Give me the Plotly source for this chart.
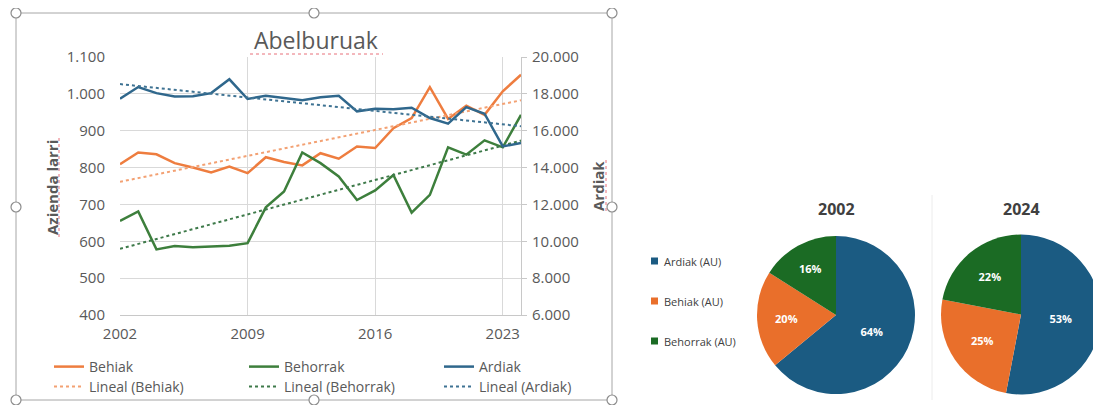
import numpy as np
import plotly.graph_objects as go

years = list(range(2002, 2025))
behiak = [809, 841, 836, 812, 800, 787, 803, 785, 828, 815, 806, 839, 824, 857,
          853, 907, 934, 1018, 932, 968, 943, 1007, 1052]
behorrak = [655, 681, 578, 587, 584, 586, 588, 595, 692, 735, 841, 812, 776, 712,
            738, 780, 678, 726, 855, 835, 874, 855, 943]
ardiak = [17740, 18370, 18040, 17860, 17870, 18040, 18790, 17720, 17900, 17780, 17660,
          17810, 17900, 17050, 17190, 17160, 17250, 16690, 16380, 17280, 16920, 15150, 15330]

x_ticks = [2002, 2009, 2016, 2023]
pie_labels = ["Ardiak (AU)", "Behiak (AU)", "Behorrak (AU)"]
pie_2002 = [64, 20, 16]
pie_2024 = [53, 25, 22]

C_OR = "#ee7d3f"
C_GR = "#3d7f3c"
C_BL = "#2f678c"
P_BL = "#1b5b82"
P_OR = "#e96f2b"
P_GR = "#1b6b24"
GRAY = "#595959"
FONT = "Open Sans"

# the page body has an 8px margin: the figure is sized so that it ends at the window edge
OFF = 8
W, H = 1101 - OFF, 405 - OFF
def px(x):
    return (x - OFF) / W
def py(y):
    return 1 - (y - OFF) / H

def trend(vals):
    k, b = np.polyfit(years, vals, 1)
    return [k * yy + b for yy in years]

fig = go.Figure()

fig.add_trace(go.Scatter(x=years, y=behiak, name="Behiak", mode="lines",
                         line=dict(color=C_OR, width=2.5), legend="legend"))
fig.add_trace(go.Scatter(x=years, y=behorrak, name="Behorrak", mode="lines",
                         line=dict(color=C_GR, width=2.5), legend="legend"))
fig.add_trace(go.Scatter(x=years, y=ardiak, name="Ardiak", mode="lines", yaxis="y2",
                         line=dict(color=C_BL, width=2.5), legend="legend"))
fig.add_trace(go.Scatter(x=years, y=trend(behiak), name="Lineal (Behiak)", mode="lines",
                         line=dict(color="#f3a173", width=2, dash="dot"), legend="legend2"))
fig.add_trace(go.Scatter(x=years, y=trend(behorrak), name="Lineal (Behorrak)", mode="lines",
                         line=dict(color="#3e7a4a", width=2, dash="dot"), legend="legend2"))
fig.add_trace(go.Scatter(x=years, y=trend(ardiak), name="Lineal (Ardiak)", mode="lines", yaxis="y2",
                         line=dict(color="#3f7393", width=2, dash="dot"), legend="legend2"))

pie_colors = [P_BL, P_OR, P_GR]
for vals, dom in [(pie_2002, dict(x=[px(757), px(915)], y=[py(394), py(236)])),
                  (pie_2024, dict(x=[px(941), 1.0], y=[py(395), py(234)]))]:
    fig.add_trace(go.Pie(labels=pie_labels, values=vals, sort=False, direction="clockwise",
                         rotation=0, marker=dict(colors=pie_colors),
                         textinfo="percent", texttemplate="<b>%{percent:.0%}</b>",
                         textposition="inside", insidetextorientation="horizontal",
                         textfont=dict(color="white", size=11, family=FONT),
                         showlegend=False, domain=dom, hoverinfo="label+percent"))

x0, x1 = px(120), px(521)
y0, y1 = py(315), py(57)

fig.update_layout(
    width=W, height=H,
    margin=dict(l=0, r=0, t=0, b=0, autoexpand=False),
    paper_bgcolor="white", plot_bgcolor="white",
    separators=",.",
    font=dict(family=FONT, color=GRAY, size=13),
    xaxis=dict(domain=[x0, x1], range=[2002, 2024], tickvals=x_ticks,
               showgrid=True, gridcolor="#d9d9d9", gridwidth=1,
               showline=True, linecolor="#c8c8c8", ticks="", zeroline=False,
               tickfont=dict(size=15, color=GRAY), ticklabelstandoff=5),
    yaxis=dict(domain=[y0, y1], range=[400, 1100], dtick=100, tickformat=",.0f",
               showgrid=True, gridcolor="#d9d9d9", zeroline=False, showline=False,
               tickfont=dict(size=15, color=GRAY), ticklabelstandoff=14),
    yaxis2=dict(overlaying="y", side="right", range=[6000, 20000], dtick=2000,
                tickformat=",.0f", showgrid=False, zeroline=False, showline=True,
                linecolor="#c8c8c8", ticks="outside", ticklen=5, tickcolor="#c8c8c8",
                tickfont=dict(size=15, color=GRAY), anchor="x", ticklabelstandoff=2),
    legend=dict(orientation="h", x=px(49), y=py(351), xanchor="left", yanchor="top",
                entrywidth=150, entrywidthmode="pixels", font=dict(size=14, color=GRAY),
                bgcolor="rgba(0,0,0,0)", itemwidth=30),
    legend2=dict(orientation="h", x=px(49), y=py(371), xanchor="left", yanchor="top",
                 entrywidth=150, entrywidthmode="pixels", font=dict(size=14, color=GRAY),
                 bgcolor="rgba(0,0,0,0)", itemwidth=30),
)

ann = [
    dict(text="Abelburuak", x=px(316), y=py(40), font=dict(size=23, color=GRAY)),
    dict(text="<b>Azienda larri</b>", x=px(52), y=py(188), textangle=-90,
         font=dict(size=15, color=GRAY)),
    dict(text="<b>Ardiak</b>", x=px(598), y=py(186), textangle=-90,
         font=dict(size=15, color=GRAY)),
    dict(text="<b>2002</b>", x=px(836), y=py(209), font=dict(size=16, color="#404040")),
    dict(text="<b>2024</b>", x=px(1021), y=py(209), font=dict(size=16, color="#404040")),
]
for a in ann:
    a.update(xref="paper", yref="paper", showarrow=False, xanchor="center", yanchor="middle")
    fig.add_annotation(**a)

shapes = []
# pie legend
for i, (lab, col) in enumerate(zip(pie_labels, pie_colors)):
    yc = 261 + 40 * i
    shapes.append(dict(type="rect", xref="paper", yref="paper",
                       x0=px(651), x1=px(658), y0=py(yc + 3.5), y1=py(yc - 3.5),
                       fillcolor=col, line=dict(width=0)))
    fig.add_annotation(text=lab, xref="paper", yref="paper", x=px(662), y=py(yc),
                       xanchor="left", yanchor="middle", showarrow=False,
                       font=dict(size=11, color="#404040"))
# separator between pies
shapes.append(dict(type="line", xref="paper", yref="paper", x0=px(932), x1=px(932),
                   y0=py(400), y1=py(195), line=dict(color="#ececec", width=1)))
# spell-check underlines (red dotted)
squig = dict(color="#e8707a", width=1, dash="dot")
shapes.append(dict(type="line", xref="paper", yref="paper", x0=px(250), x1=px(383),
                   y0=py(54), y1=py(54), line=squig))
shapes.append(dict(type="line", xref="paper", yref="paper", x0=px(59), x1=px(59),
                   y0=py(237), y1=py(138), line=squig))
shapes.append(dict(type="line", xref="paper", yref="paper", x0=px(606), x1=px(606),
                   y0=py(211), y1=py(160), line=squig))
# chart selection frame
shapes.append(dict(type="rect", xref="paper", yref="paper", x0=px(16), x1=px(612),
                   y0=py(400), y1=py(13), line=dict(color="#a6a6a6", width=1)))
for hx, hy in [(16, 13), (314, 13), (612, 13), (16, 207), (612, 207),
               (16, 400), (314, 400), (612, 400)]:
    shapes.append(dict(type="circle", xref="paper", yref="paper",
                       x0=px(hx - 5), x1=px(hx + 5), y0=py(hy + 5), y1=py(hy - 5),
                       fillcolor="white", line=dict(color="#8c8c8c", width=1.2)))
fig.update_layout(shapes=shapes)

fig.write_html("out.html")
